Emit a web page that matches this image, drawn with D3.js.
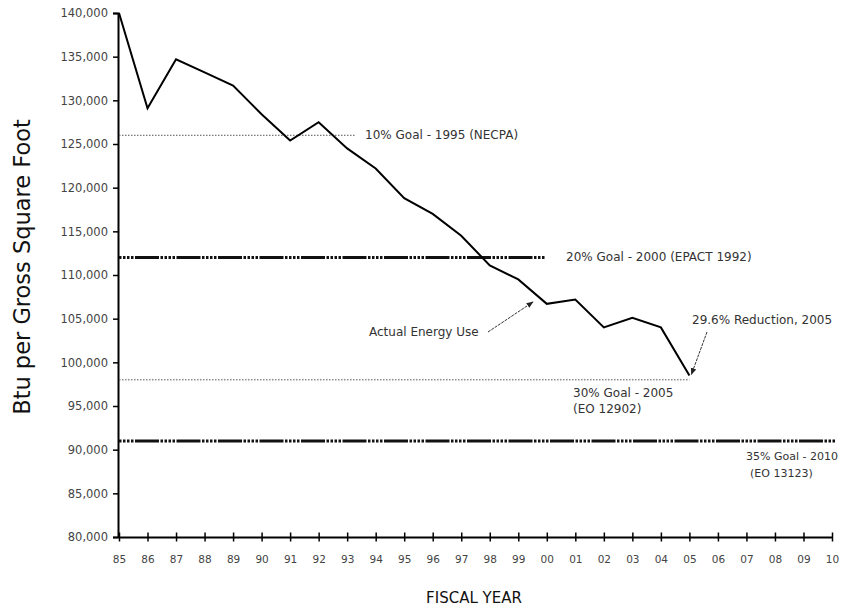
<!DOCTYPE html>
<html><head><meta charset="utf-8">
<script src="https://cdn.jsdelivr.net/npm/d3@7"></script>
<style>body{margin:0;background:#fff;} svg{display:block;font-family:"DejaVu Sans","Liberation Sans",Arial,sans-serif;}</style>
</head><body><svg id="c" width="846" height="611"></svg>
<script>
const years = ["85","86","87","88","89","90","91","92","93","94","95","96","97","98","99","00","01","02","03","04","05","06","07","08","09","10"];
const actualYears = ["85","86","87","88","89","90","91","92","93","94","95","96","97","98","99","00","01","02","03","04","05"];
const actualValues = [140000,129100,134700,133200,131700,128400,125400,127500,124500,122200,118800,117000,114500,111100,109500,106700,107200,104000,105100,104000,98500];
const yTicks = [80000,85000,90000,95000,100000,105000,110000,115000,120000,125000,130000,135000,140000];
const goalNames = ["10% Goal - 1995 (NECPA)","20% Goal - 2000 (EPACT 1992)","30% Goal - 2005|(EO 12902)","35% Goal - 2010|(EO 13123)"];
const goalValues = [126000,112000,98000,91000];
const goalStyles = ["thin","thick","thin","thick"];

const svg = d3.select("#c");
const x = d3.scalePoint().domain(years).range([119,832]);
const y = d3.scaleLinear().domain([80000,140000]).range([537,13]);
const fmt = d3.format(",");

// Y axis
const ya = svg.append("g").attr("transform","translate(118,0)")
  .call(d3.axisLeft(y).tickValues(yTicks).tickFormat(fmt).tickSize(5).tickPadding(5));
ya.select(".domain").attr("stroke","#000").attr("stroke-width",2);
ya.selectAll(".tick line").attr("stroke","#000").attr("stroke-width",1.5);
ya.selectAll(".tick text").attr("fill","#444").style("font-size","11.5px").style("font-family","DejaVu Sans");

// X axis
const xa = svg.append("g").attr("transform","translate(0,537)")
  .call(d3.axisBottom(x).tickSize(9).tickPadding(10).tickSizeOuter(0));
xa.select(".domain").attr("stroke","#000").attr("stroke-width",2);
xa.selectAll(".tick line").attr("stroke","#000").attr("stroke-width",1.5).attr("y1",-4.5).attr("y2",4.5);
xa.selectAll(".tick text").attr("fill","#444").style("font-size","10.5px").style("font-family","DejaVu Sans").attr("y",19);

// Goal lines
const goalEnds = [355, x("00")-2, x("05"), x("10")+4];
goalValues.forEach((v,i)=>{
  const thick = goalStyles[i]==="thick";
  svg.append("line")
    .attr("x1",119).attr("x2", goalEnds[i])
    .attr("y1",y(v)).attr("y2",y(v))
    .attr("stroke", thick ? "#111" : "#555")
    .attr("stroke-width", thick ? 3 : 1)
    .attr("stroke-dasharray", thick ? "2.5,1.5,2.5,1.5,2.5,1.5,2.5,1.5,24,1.5" : "1.5,1.5");
});

// Goal labels
const lbl = (t,xx,yy,size)=>svg.append("text").attr("x",xx).attr("y",yy)
  .attr("fill","#333").style("font-size",(size||12)+"px").attr("dominant-baseline","middle").text(t);
lbl(goalNames[0], 365, y(goalValues[0]));
lbl(goalNames[1], 566, y(goalValues[1]));
const g3 = goalNames[2].split("|");
lbl(g3[0], 573, y(goalValues[2])+14);
lbl(g3[1], 573, y(goalValues[2])+30);
const g4 = goalNames[3].split("|");
lbl(g4[0], 746, y(goalValues[3])+16, 11);
lbl(g4[1], 750, y(goalValues[3])+33, 11);

// Actual line
const line = d3.line().x((d,i)=>x(actualYears[i])).y(d=>y(d));
svg.append("path").datum(actualValues).attr("d",line)
  .attr("fill","none").attr("stroke","#000").attr("stroke-width",2).attr("stroke-linejoin","miter");

// Annotations
svg.append("defs").append("marker").attr("id","ah").attr("viewBox","0 0 10 10").attr("refX",9).attr("refY",5)
  .attr("markerWidth",7).attr("markerHeight",7).attr("orient","auto")
  .append("path").attr("d","M0,1 L10,5 L0,9 z").attr("fill","#222");
lbl("Actual Energy Use", 369, 332);
svg.append("line").attr("x1",488).attr("y1",332).attr("x2",533).attr("y2",302)
  .attr("stroke","#333").attr("stroke-width",1).attr("stroke-dasharray","3,1").attr("marker-end","url(#ah)");
lbl("29.6% Reduction, 2005", 692, 320);
svg.append("line").attr("x1",707).attr("y1",332).attr("x2",x("05")+2).attr("y2",y(actualValues[20])-1)
  .attr("stroke","#333").attr("stroke-width",1).attr("stroke-dasharray","3,1").attr("marker-end","url(#ah)");

// Axis titles
svg.append("text").attr("transform","translate(23,267) rotate(-90)").attr("text-anchor","middle")
  .attr("dominant-baseline","middle").style("font-size","22.5px").attr("fill","#111").text("Btu per Gross Square Foot");
svg.append("text").attr("x",474).attr("y",598).attr("text-anchor","middle").attr("dominant-baseline","middle")
  .style("font-size","15px").attr("fill","#111").text("FISCAL YEAR");
</script></body></html>
